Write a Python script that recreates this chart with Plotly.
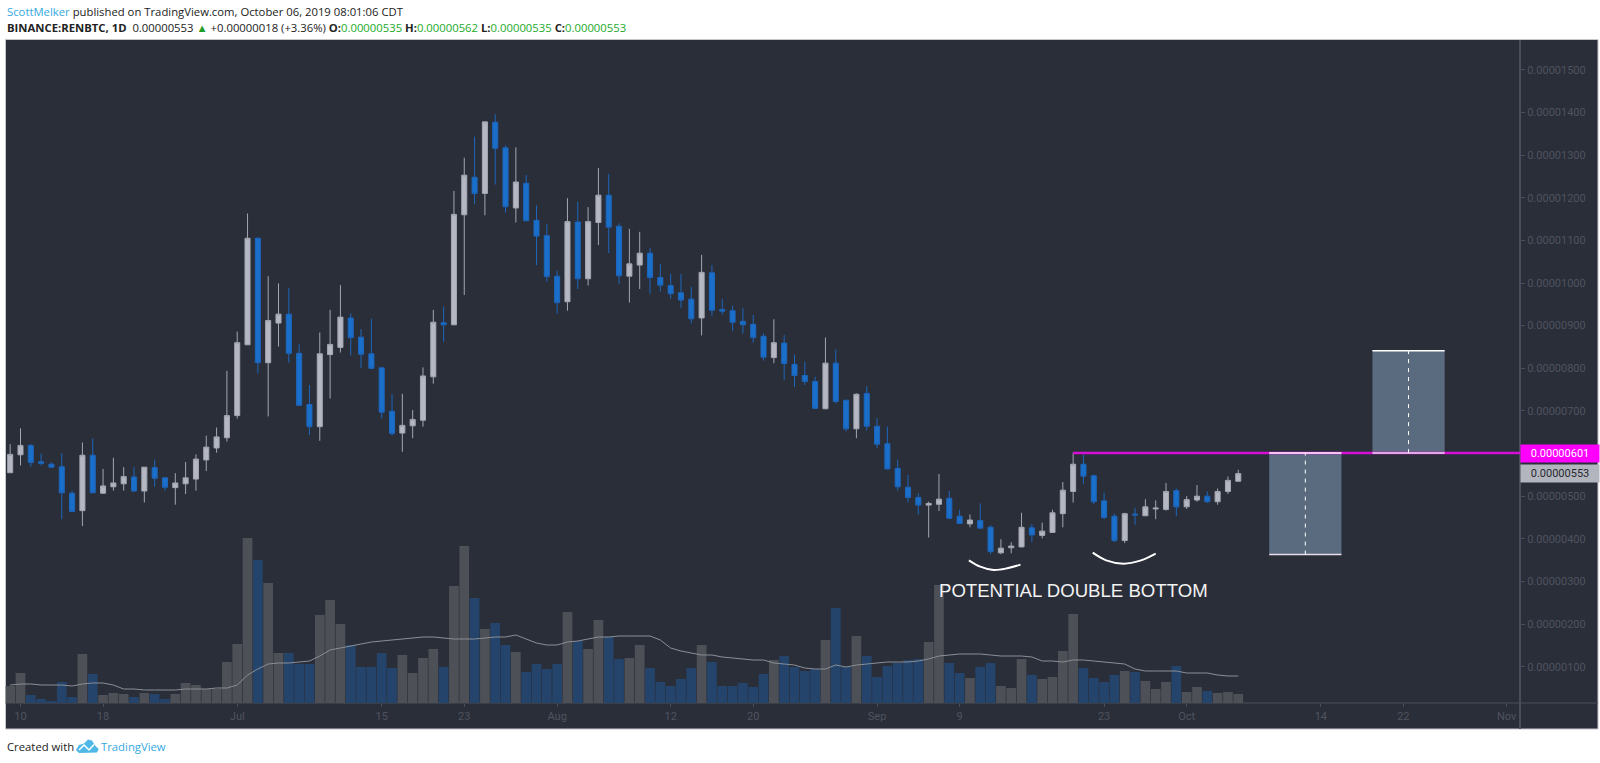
import pandas as pd
import plotly.graph_objects as go

# prices are in units of 0.00000001 BTC
dates = pd.date_range("2019-06-09", periods=120, freq="D")
open_ = [555,597,619,581,575,569,507,466,596,507,522,529,545,512,567,543,520,529,540,585,
         613,637,689,855,1105,813,906,927,835,715,663,832,849,918,873,834,801,699,648,665,
         678,780,907,902,1160,1248,1210,1377,1317,1176,1234,1147,1111,1016,956,1143,1010,1142,1206,1133,
         1016,1042,1070,1013,994,977,962,918,1024,938,935,910,903,875,825,859,809,783,769,705,
         812,725,658,741,664,623,565,521,497,479,481,495,453,435,443,427,367,379,381,426,
         408,415,459,511,575,548,489,453,396,458,454,470,469,513,475,491,500,487,511,535]
high = [622,659,622,600,579,601,513,626,636,564,590,568,568,568,586,544,554,580,598,642,
        661,794,886,1163,1107,1016,999,988,856,761,884,937,995,929,892,916,801,740,740,702,
        802,937,945,1216,1294,1343,1378,1396,1323,1318,1253,1182,1138,1029,1199,1190,1178,1270,1256,1140,
        1127,1120,1083,1045,1021,1021,991,1066,1042,962,947,941,925,882,915,878,832,815,780,872,
        844,726,741,758,683,663,586,550,507,487,552,512,468,457,483,432,399,392,461,435,
        438,468,533,602,597,550,508,459,461,473,493,490,531,518,500,526,511,518,546,562]
low = [555,572,569,572,566,446,463,430,507,505,513,513,511,485,522,513,480,505,513,559,
       602,628,682,855,788,687,851,813,712,643,630,729,837,830,801,798,682,642,604,636,
       663,764,862,901,972,1185,1159,1231,1165,1142,1145,1042,1003,928,935,986,994,1089,1070,998,
       954,986,975,980,963,942,905,877,923,926,888,881,860,818,812,773,756,761,705,704,
       717,652,636,654,613,563,513,485,457,403,465,446,435,427,424,364,364,366,380,392,
       401,414,427,485,529,481,446,392,390,433,454,446,466,453,470,487,484,480,505,535]
close = [598,619,579,577,568,508,464,596,508,524,531,546,512,568,542,521,531,543,587,615,
         639,689,860,1105,813,912,927,835,713,663,834,856,920,872,833,800,697,647,666,680,
         782,908,902,1161,1253,1210,1378,1316,1179,1237,1146,1110,1015,954,1144,1010,1144,1206,1131,1017,
         1045,1070,1013,995,975,960,916,1025,936,934,908,902,872,826,860,811,783,769,706,812,
         722,658,739,664,622,564,522,497,479,483,493,448,436,444,425,370,378,383,427,409,
         418,461,514,575,547,487,450,396,459,456,475,472,511,475,492,500,487,511,537,553]
volume = [17,30,8,4,2,21,6,49,29,8,10,9,6,10,9,4,9,20,18,14,
          14,41,59,165,143,120,50,50,39,39,88,103,79,58,36,36,50,35,48,30,
          45,54,36,117,157,105,74,80,58,51,31,39,34,39,91,62,54,83,66,44,
          45,58,35,21,17,24,35,58,41,17,17,20,16,29,43,47,36,32,34,63,
          95,36,67,47,26,37,40,43,44,61,118,40,30,25,36,40,17,15,44,28,
          24,26,52,89,35,25,21,28,32,31,22,14,21,37,11,16,12,10,11,9]
volume_ma = [18,19,19,18,18,18,17,19,20,20,18,14,14,13,13,13,13,14,14,14,
             15,15,18,28,34,39,40,40,41,42,47,53,55,57,59,61,62,63,64,65,
             66,66,65,64,64,64,65,66,66,68,64,60,58,58,61,62,64,66,66,67,
             67,67,67,63,55,52,50,48,48,46,45,44,43,43,40,39,38,35,34,34,
             38,36,38,39,40,41,41,41,42,44,47,48,49,49,49,48,47,47,47,46,
             42,42,41,43,43,42,41,40,39,34,32,32,32,32,30,30,30,28,27,27]

y_ticks = [100,200,300,400,500,700,800,900,1000,1100,1200,1300,1400,1500]
x_tick_dates = ["2019-06-10","2019-06-18","2019-07-01","2019-07-15","2019-07-23","2019-08-01","2019-08-12",
                "2019-08-20","2019-09-01","2019-09-09","2019-09-23","2019-10-01","2019-10-14","2019-10-22","2019-11-01"]
x_tick_labels = ["10","18","Jul","15","23","Aug","12","20","Sep","9","23","Oct","14","22","Nov"]

level = 601
last_price = 553
box1 = ["2019-10-09", "2019-10-16", 363, 601]
box2 = ["2019-10-19", "2019-10-26", 601, 841]
arrow1 = ["2019-10-12 12:00", 363, 601]
arrow2 = ["2019-10-22 12:00", 601, 841]
arc1_x = ["2019-09-09 21:36","2019-09-11 00:00","2019-09-12 07:12","2019-09-13 14:24","2019-09-14 21:36"]
arc1_y = [349.5,334.7,326.8,330.7,339.4]
arc2_x = ["2019-09-21 21:36","2019-09-23 04:48","2019-09-24 21:36","2019-09-26 12:00","2019-09-28 00:00"]
arc2_y = [367.5,349.5,341.7,348.7,365.2]

W, H = 1600, 763
BG = "#2a2e39"
AX = "#4a4e5a"
TICK = "#4f535f"
UP, DOWN = "#b5b8c2", "#1a6fcb"
UPV, DOWNV = "#4d5056", "#24446c"
E8 = 1e-8
px = lambda v: v / W
py = lambda v: (H - v) / H


def poly(points):
    return "M " + " L ".join(f"{px(a):.5f} {py(b):.5f}" for a, b in points)


fig = go.Figure()

fig.add_bar(x=dates, y=volume, yaxis="y",
            marker=dict(color=[UPV if c >= o else DOWNV for o, c in zip(open_, close)], line_width=0))
fig.add_scatter(x=dates, y=volume_ma, yaxis="y", mode="lines", line=dict(color="#8b8e95", width=1))
fig.add_candlestick(x=dates, yaxis="y2",
                    open=[v * E8 for v in open_], high=[v * E8 for v in high],
                    low=[v * E8 for v in low], close=[v * E8 for v in close],
                    increasing=dict(fillcolor=UP, line=dict(color="#a4a7b1", width=1)),
                    decreasing=dict(fillcolor=DOWN, line=dict(color="#1d66bb", width=1)))

for xs, ys in ((arc1_x, arc1_y), (arc2_x, arc2_y)):
    fig.add_scatter(x=xs, y=[v * E8 for v in ys], yaxis="y2", mode="lines",
                    line=dict(color="white", width=2, shape="spline"))

shapes = [
    dict(type="rect", xref="paper", yref="paper", x0=px(5.5), x1=px(1598), y0=py(729), y1=py(39.5),
         fillcolor=BG, line=dict(color="#c4c6cc", width=1), layer="below"),
    dict(type="line", xref="paper", yref="paper", x0=px(5.5), x1=px(1598), y0=py(703), y1=py(703),
         line=dict(color=AX, width=1), layer="below"),
    dict(type="line", xref="paper", yref="paper", x0=px(1520), x1=px(1520), y0=py(729), y1=py(40),
         line=dict(color=AX, width=2), layer="below"),
]
for b in (box1, box2):
    shapes.append(dict(type="rect", xref="x", yref="y2", x0=b[0], x1=b[1], y0=b[2] * E8, y1=b[3] * E8,
                       fillcolor="#5a6b80", line_width=0))
shapes.append(dict(type="line", xref="paper", yref="y2", x0=px(1073), x1=px(1520),
                   y0=level * E8, y1=level * E8, line=dict(color="#d60fd6", width=2.5)))
for b in (box1, box2):
    for yv, col in ((b[2], "#e6dde8"), (b[3], "#ffffff")):
        shapes.append(dict(type="line", xref="x", yref="y2", x0=b[0], x1=b[1], y0=yv * E8, y1=yv * E8,
                           line=dict(color=col, width=1.5)))
for a in (arrow1, arrow2):
    shapes.append(dict(type="line", xref="x", yref="y2", x0=a[0], x1=a[0], y0=a[1] * E8, y1=a[2] * E8,
                       line=dict(color="white", width=1, dash="4px,5px")))
# TradingView logo in the footer
shapes.append(dict(type="path", xref="paper", yref="paper", line_width=0, fillcolor="#4fb8e6",
                   path=poly([(76, 750), (79, 745), (84, 743.5), (88, 739.5), (92, 740.5), (95, 745.5),
                              (98.7, 749), (97, 752.5), (79, 753)]) + " Z"))
shapes.append(dict(type="path", xref="paper", yref="paper", line=dict(color="white", width=1.5),
                   path=poly([(79, 750), (84, 745), (89, 750), (94, 744.5)])))
fig.update_layout(shapes=shapes)

for a in (arrow1, arrow2):
    c = pd.Timestamp(a[0])
    fig.add_scatter(x=[c - pd.Timedelta(hours=9), c, c + pd.Timedelta(hours=9)],
                    y=[(a[2] - 14) * E8, (a[2] - 3) * E8, (a[2] - 14) * E8],
                    yaxis="y2", mode="lines", line=dict(color="white", width=1))

HDR = "Open Sans"
ann = [
    dict(xref="paper", yref="paper", x=px(5), y=py(11.5), xanchor="left", yanchor="middle", showarrow=False,
         font=dict(family=HDR, size=11.3, color="#222"),
         text='<span style="color:#35a9e2">ScottMelker</span> published on TradingView.com, October 06, 2019 08:01:06 CDT'),
    dict(xref="paper", yref="paper", x=px(5), y=py(27.5), xanchor="left", yanchor="middle", showarrow=False,
         font=dict(family=HDR, size=11.3, color="#222"),
         text='<b>BINANCE:RENBTC, 1D</b>  0.00000553 <span style="color:#1f9e2c">▲</span> +0.00000018 (+3.36%) '
              '<b>O:</b><span style="color:#22ab2c">0.00000535</span> <b>H:</b><span style="color:#22ab2c">0.00000562</span> '
              '<b>L:</b><span style="color:#22ab2c">0.00000535</span> <b>C:</b><span style="color:#22ab2c">0.00000553</span>'),
    dict(xref="paper", yref="paper", x=px(5), y=py(746.5), xanchor="left", yanchor="middle", showarrow=False,
         font=dict(family=HDR, size=11.3, color="#222"), text="Created with"),
    dict(xref="paper", yref="paper", x=px(99), y=py(746.5), xanchor="left", yanchor="middle", showarrow=False,
         font=dict(family=HDR, size=11.3, color="#35a9e2"), text="TradingView"),
    dict(xref="x", yref="y2", x="2019-09-20", y=278.5 * E8, showarrow=False, xanchor="center", yanchor="middle",
         font=dict(family="Liberation Sans", size=18.6, color="#f2f2f2"), text="POTENTIAL DOUBLE BOTTOM"),
    dict(xref="paper", yref="y2", x=px(1520), y=level * E8, showarrow=False, xanchor="left", yanchor="middle",
         width=78, height=17, borderpad=0, bgcolor="#ff00ff", align="center",
         font=dict(family="Roboto", size=11, color="white"), text=f"{level * E8:.8f}"),
    dict(xref="paper", yref="y2", x=px(1520), y=last_price * E8, showarrow=False, xanchor="left", yanchor="middle",
         width=78, height=17, borderpad=0, bgcolor="#b2b5be", align="center",
         font=dict(family="Roboto", size=11, color="#26282e"), text=f"{last_price * E8:.8f}"),
]

left = pd.Timestamp("2019-06-10") - pd.Timedelta(days=1.453)
right = pd.Timestamp("2019-06-10") + pd.Timedelta(days=145.3)

fig.update_layout(
    width=W, height=H, autosize=False, showlegend=False,
    margin=dict(l=0, r=0, t=0, b=0, pad=0),
    paper_bgcolor="white", plot_bgcolor="rgba(0,0,0,0)",
    bargap=0.06, boxgap=0.3,
    annotations=ann,
    xaxis=dict(domain=[px(5.5), px(1520)], range=[left, right], type="date", rangeslider=dict(visible=False),
               tickmode="array", tickvals=x_tick_dates, ticktext=x_tick_labels, showgrid=False, zeroline=False,
               ticks="outside", ticklen=3, tickcolor=AX, showline=False,
               tickfont=dict(family="Roboto", size=11, color=TICK), anchor="y"),
    yaxis=dict(domain=[py(703), py(40)], range=[0, 663], showgrid=False, zeroline=False,
               showticklabels=False, ticks="", showline=False),
    yaxis2=dict(domain=[py(703), py(40)], range=[14.85 * E8, 1570 * E8], overlaying="y", side="right", anchor="x",
                tickmode="array", tickvals=[v * E8 for v in y_ticks], tickformat=".8f",
                showgrid=False, zeroline=False, ticks="outside", ticklen=4, tickcolor=AX, showline=False,
                tickfont=dict(family="Roboto", size=11, color=TICK)),
)

fig.write_html("out.html", config=dict(displayModeBar=False),
               post_script="document.body.style.margin='0';document.body.style.overflow='hidden';")
